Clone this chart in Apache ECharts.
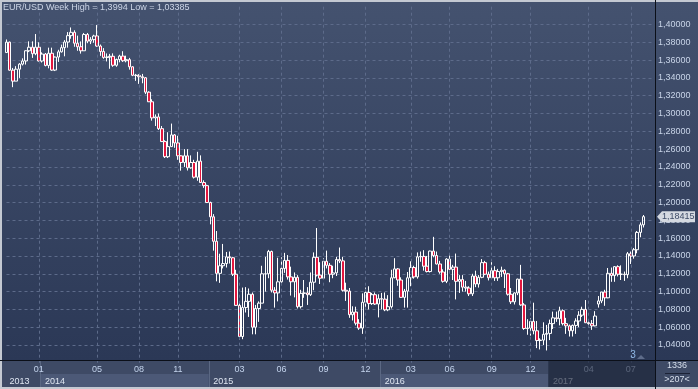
<!DOCTYPE html>
<html>
<head>
<meta charset="utf-8">
<title>EUR/USD Week</title>
<script src="https://cdn.jsdelivr.net/npm/echarts@6/dist/echarts.min.js"></script>
<style>
  html, body { margin: 0; padding: 0; background: #c4c9d2; }
  #chart { width: 698px; height: 389px; }
</style>
</head>
<body>
<div id="chart"></div>
<script>
// week start (Monday) of every candle
const weeks = [
  '2013-10-21', '2013-10-28', '2013-11-04', '2013-11-11', '2013-11-18', '2013-11-25', '2013-12-02', '2013-12-09', '2013-12-16', '2013-12-23', '2013-12-30',
  '2014-01-06', '2014-01-13', '2014-01-20', '2014-01-27', '2014-02-03', '2014-02-10', '2014-02-17', '2014-02-24', '2014-03-03', '2014-03-10', '2014-03-17', '2014-03-24', '2014-03-31',
  '2014-04-07', '2014-04-14', '2014-04-21', '2014-04-28', '2014-05-05', '2014-05-12', '2014-05-19', '2014-05-26', '2014-06-02', '2014-06-09', '2014-06-16', '2014-06-23', '2014-06-30',
  '2014-07-07', '2014-07-14', '2014-07-21', '2014-07-28', '2014-08-04', '2014-08-11', '2014-08-18', '2014-08-25', '2014-09-01', '2014-09-08', '2014-09-15', '2014-09-22', '2014-09-29',
  '2014-10-06', '2014-10-13', '2014-10-20', '2014-10-27', '2014-11-03', '2014-11-10', '2014-11-17', '2014-11-24', '2014-12-01', '2014-12-08', '2014-12-15', '2014-12-22', '2014-12-29',
  '2015-01-05', '2015-01-12', '2015-01-19', '2015-01-26', '2015-02-02', '2015-02-09', '2015-02-16', '2015-02-23', '2015-03-02', '2015-03-09', '2015-03-16', '2015-03-23', '2015-03-30',
  '2015-04-06', '2015-04-13', '2015-04-20', '2015-04-27', '2015-05-04', '2015-05-11', '2015-05-18', '2015-05-25', '2015-06-01', '2015-06-08', '2015-06-15', '2015-06-22', '2015-06-29',
  '2015-07-06', '2015-07-13', '2015-07-20', '2015-07-27', '2015-08-03', '2015-08-10', '2015-08-17', '2015-08-24', '2015-08-31', '2015-09-07', '2015-09-14', '2015-09-21', '2015-09-28',
  '2015-10-05', '2015-10-12', '2015-10-19', '2015-10-26', '2015-11-02', '2015-11-09', '2015-11-16', '2015-11-23', '2015-11-30', '2015-12-07', '2015-12-14', '2015-12-21', '2015-12-28',
  '2016-01-04', '2016-01-11', '2016-01-18', '2016-01-25', '2016-02-01', '2016-02-08', '2016-02-15', '2016-02-22', '2016-02-29', '2016-03-07', '2016-03-14', '2016-03-21', '2016-03-28',
  '2016-04-04', '2016-04-11', '2016-04-18', '2016-04-25', '2016-05-02', '2016-05-09', '2016-05-16', '2016-05-23', '2016-05-30', '2016-06-06', '2016-06-13', '2016-06-20', '2016-06-27',
  '2016-07-04', '2016-07-11', '2016-07-18', '2016-07-25', '2016-08-01', '2016-08-08', '2016-08-15', '2016-08-22', '2016-08-29', '2016-09-05', '2016-09-12', '2016-09-19', '2016-09-26',
  '2016-10-03', '2016-10-10', '2016-10-17', '2016-10-24', '2016-10-31', '2016-11-07', '2016-11-14', '2016-11-21', '2016-11-28', '2016-12-05', '2016-12-12', '2016-12-19', '2016-12-26',
  '2017-01-02', '2017-01-09', '2017-01-16', '2017-01-23', '2017-01-30', '2017-02-06', '2017-02-13', '2017-02-20', '2017-02-27', '2017-03-06', '2017-03-13', '2017-03-20', '2017-03-27',
  '2017-04-03', '2017-04-10', '2017-04-17', '2017-04-24', '2017-05-01', '2017-05-08', '2017-05-15', '2017-05-22', '2017-05-29', '2017-06-05', '2017-06-12', '2017-06-19', '2017-06-26',
  '2017-07-03', '2017-07-10', '2017-07-17', '2017-07-24', '2017-07-31',
  // empty slots on the right edge
  '2017-08-07', '2017-08-14', '2017-08-21'
]

const opens = [
  1.3685, 1.3802, 1.3487, 1.3364, 1.3498, 1.3555, 1.3590, 1.3705, 1.3745, 1.3672, 1.3745,
  1.3590, 1.3668, 1.3540, 1.3677, 1.3488, 1.3634, 1.3693, 1.3740, 1.3803, 1.3875, 1.3912, 1.3790, 1.3750,
  1.3705, 1.3888, 1.3813, 1.3830, 1.3871, 1.3758, 1.3697, 1.3630, 1.3635, 1.3643, 1.3542, 1.3607, 1.3645,
  1.3593, 1.3605, 1.3525, 1.3430, 1.3428, 1.3413, 1.3402, 1.3240, 1.3132, 1.2951, 1.2962, 1.2830, 1.2685,
  1.2515, 1.2628, 1.2760, 1.2670, 1.2525, 1.2450, 1.2525, 1.2390, 1.2450, 1.2285, 1.2465, 1.2225, 1.2190,
  1.2000, 1.1840, 1.1565, 1.1205, 1.1290, 1.1315, 1.1390, 1.1380, 1.1195, 1.0845, 1.0495, 1.0820, 1.0890,
  1.0970, 1.0600, 1.0810, 1.0870, 1.1200, 1.1200, 1.1450, 1.1015, 1.0985, 1.1110, 1.1260, 1.1350, 1.1165,
  1.1110, 1.1160, 1.0830, 1.0980, 1.0985, 1.0965, 1.1105, 1.1385, 1.1185, 1.1150, 1.1340, 1.1295, 1.1195,
  1.1210, 1.1360, 1.1345, 1.1015, 1.1005, 1.0740, 1.0770, 1.0645, 1.0590, 1.0880, 1.0990, 1.0865, 1.0965,
  1.0860, 1.0920, 1.0915, 1.0795, 1.0830, 1.1155, 1.1255, 1.1130, 1.0935, 1.1005, 1.1155, 1.1270, 1.1165,
  1.1390, 1.1395, 1.1285, 1.1225, 1.1455, 1.1405, 1.1310, 1.1220, 1.1115, 1.1365, 1.1250, 1.1275, 1.1115,
  1.1135, 1.1050, 1.1040, 1.0975, 1.1175, 1.1085, 1.1160, 1.1325, 1.1195, 1.1155, 1.1235, 1.1155, 1.1225,
  1.1240, 1.1200, 1.0970, 1.0885, 1.0985, 1.1140, 1.0850, 1.0585, 1.0590, 1.0665, 1.0560, 1.0450, 1.0455,
  1.0520, 1.0530, 1.0640, 1.0705, 1.0695, 1.0785, 1.0640, 1.0615, 1.0560, 1.0620, 1.0670, 1.0735, 1.0800,
  1.0650, 1.0640, 1.0615, 1.0860, 1.0895, 1.0995, 1.0930, 1.1205, 1.1180, 1.1280, 1.1195, 1.1195, 1.1190,
  1.1425, 1.1400, 1.1470, 1.1665, 1.1750
]

const highs = [
  1.3832, 1.3808, 1.3512, 1.3532, 1.3566, 1.3620, 1.3710, 1.3811, 1.3811, 1.3893, 1.3800,
  1.3687, 1.3680, 1.3740, 1.3740, 1.3640, 1.3716, 1.3774, 1.3825, 1.3915, 1.3967, 1.3935, 1.3875, 1.3810,
  1.3905, 1.3905, 1.3858, 1.3885, 1.3994, 1.3775, 1.3735, 1.3675, 1.3670, 1.3676, 1.3617, 1.3660, 1.3700,
  1.3650, 1.3625, 1.3530, 1.3445, 1.3443, 1.3445, 1.3410, 1.3250, 1.3160, 1.2990, 1.3000, 1.2860, 1.2700,
  1.2790, 1.2887, 1.2770, 1.2750, 1.2530, 1.2600, 1.2600, 1.2530, 1.2480, 1.2570, 1.2530, 1.2250, 1.2200,
  1.2010, 1.1870, 1.1680, 1.1425, 1.1535, 1.1445, 1.1450, 1.1390, 1.1245, 1.0880, 1.1045, 1.1050, 1.1035,
  1.0990, 1.0850, 1.0890, 1.1290, 1.1390, 1.1468, 1.1460, 1.1050, 1.1380, 1.1385, 1.1435, 1.1410, 1.1280,
  1.1215, 1.1185, 1.1020, 1.1130, 1.1050, 1.1215, 1.1440, 1.1714, 1.1330, 1.1375, 1.1460, 1.1320, 1.1290,
  1.1390, 1.1495, 1.1390, 1.1100, 1.1040, 1.0835, 1.0830, 1.0690, 1.0980, 1.1045, 1.1060, 1.0985, 1.0990,
  1.0970, 1.0985, 1.0990, 1.0960, 1.1245, 1.1375, 1.1265, 1.1160, 1.1030, 1.1220, 1.1340, 1.1290, 1.1440,
  1.1450, 1.1465, 1.1400, 1.1460, 1.1615, 1.1450, 1.1345, 1.1250, 1.1375, 1.1415, 1.1300, 1.1427, 1.1185,
  1.1185, 1.1120, 1.1060, 1.1200, 1.1235, 1.1185, 1.1365, 1.1345, 1.1225, 1.1330, 1.1285, 1.1255, 1.1280,
  1.1250, 1.1210, 1.1040, 1.0990, 1.1145, 1.1300, 1.0870, 1.0690, 1.0700, 1.0875, 1.0670, 1.0475, 1.0655,
  1.0625, 1.0685, 1.0775, 1.0775, 1.0830, 1.0800, 1.0705, 1.0630, 1.0630, 1.0700, 1.0780, 1.0830, 1.0905,
  1.0690, 1.0680, 1.0780, 1.0950, 1.0995, 1.1020, 1.1265, 1.1270, 1.1285, 1.1295, 1.1295, 1.1225, 1.1445,
  1.1450, 1.1490, 1.1680, 1.1777, 1.1860
]

const lows = [
  1.3680, 1.3480, 1.3296, 1.3364, 1.3400, 1.3540, 1.3550, 1.3690, 1.3625, 1.3655, 1.3585,
  1.3573, 1.3530, 1.3508, 1.3480, 1.3477, 1.3580, 1.3685, 1.3643, 1.3740, 1.3840, 1.3750, 1.3705, 1.3673,
  1.3705, 1.3790, 1.3780, 1.3795, 1.3750, 1.3648, 1.3615, 1.3585, 1.3503, 1.3525, 1.3525, 1.3575, 1.3580,
  1.3575, 1.3493, 1.3420, 1.3367, 1.3333, 1.3340, 1.3218, 1.3130, 1.2920, 1.2860, 1.2815, 1.2680, 1.2500,
  1.2500, 1.2625, 1.2615, 1.2480, 1.2358, 1.2400, 1.2360, 1.2380, 1.2270, 1.2245, 1.2220, 1.2165, 1.1995,
  1.1755, 1.1460, 1.1115, 1.1098, 1.1260, 1.1270, 1.1315, 1.1175, 1.0840, 1.0462, 1.0465, 1.0765, 1.0715,
  1.0520, 1.0520, 1.0660, 1.0870, 1.1000, 1.1150, 1.0990, 1.0820, 1.0890, 1.1080, 1.1210, 1.1135, 1.0955,
  1.0935, 1.0810, 1.0810, 1.0930, 1.0850, 1.0950, 1.1015, 1.1170, 1.1085, 1.1150, 1.1260, 1.1105, 1.1150,
  1.1175, 1.1320, 1.1000, 1.0895, 1.0705, 1.0675, 1.0620, 1.0570, 1.0525, 1.0800, 1.0800, 1.0850, 1.0850,
  1.0710, 1.0800, 1.0780, 1.0780, 1.0810, 1.1150, 1.1065, 1.0930, 1.0820, 1.0820, 1.1060, 1.1145, 1.1145,
  1.1335, 1.1235, 1.1215, 1.1215, 1.1385, 1.1305, 1.1200, 1.1100, 1.1095, 1.1240, 1.1130, 1.0912, 1.0985,
  1.1000, 1.1000, 1.0950, 1.0950, 1.1050, 1.1045, 1.1150, 1.1185, 1.1125, 1.1150, 1.1120, 1.1120, 1.1165,
  1.1040, 1.0955, 1.0860, 1.0855, 1.0960, 1.0840, 1.0570, 1.0515, 1.0505, 1.0520, 1.0365, 1.0350, 1.0400,
  1.03385, 1.0455, 1.0580, 1.0660, 1.0620, 1.0620, 1.0525, 1.0495, 1.0495, 1.0525, 1.0600, 1.0715, 1.0650,
  1.0600, 1.0570, 1.0610, 1.0820, 1.0870, 1.0840, 1.0925, 1.1110, 1.1110, 1.1170, 1.1130, 1.1120, 1.1150,
  1.1310, 1.1370, 1.1430, 1.1610, 1.1720
]

const closes = [
  1.3802, 1.3487, 1.3364, 1.3498, 1.3555, 1.3590, 1.3705, 1.3745, 1.3672, 1.3745, 1.3590,
  1.3668, 1.3540, 1.3677, 1.3488, 1.3634, 1.3693, 1.3740, 1.3803, 1.3875, 1.3912, 1.3790, 1.3750, 1.3705,
  1.3888, 1.3813, 1.3830, 1.3871, 1.3758, 1.3697, 1.3630, 1.3635, 1.3643, 1.3542, 1.3607, 1.3645, 1.3593,
  1.3605, 1.3525, 1.3430, 1.3428, 1.3413, 1.3402, 1.3240, 1.3132, 1.2951, 1.2962, 1.2830, 1.2685, 1.2515,
  1.2628, 1.2760, 1.2670, 1.2525, 1.2450, 1.2525, 1.2390, 1.2450, 1.2285, 1.2465, 1.2225, 1.2190, 1.2000,
  1.1840, 1.1565, 1.1205, 1.1290, 1.1315, 1.1390, 1.1380, 1.1195, 1.0845, 1.0495, 1.0820, 1.0890, 1.0970,
  1.0600, 1.0810, 1.0870, 1.1200, 1.1200, 1.1450, 1.1015, 1.0985, 1.1110, 1.1260, 1.1350, 1.1165, 1.1110,
  1.1160, 1.0830, 1.0980, 1.0985, 1.0965, 1.1105, 1.1385, 1.1185, 1.1150, 1.1340, 1.1295, 1.1195, 1.1210,
  1.1360, 1.1345, 1.1015, 1.1005, 1.0740, 1.0770, 1.0645, 1.0590, 1.0880, 1.0990, 1.0865, 1.0965, 1.0860,
  1.0920, 1.0915, 1.0795, 1.0830, 1.1155, 1.1255, 1.1130, 1.0935, 1.1005, 1.1155, 1.1270, 1.1165, 1.1390,
  1.1395, 1.1285, 1.1225, 1.1455, 1.1405, 1.1310, 1.1220, 1.1115, 1.1365, 1.1250, 1.1275, 1.1115, 1.1135,
  1.1050, 1.1040, 1.0975, 1.1175, 1.1085, 1.1160, 1.1325, 1.1195, 1.1155, 1.1235, 1.1155, 1.1225, 1.1240,
  1.1200, 1.0970, 1.0885, 1.0985, 1.1140, 1.0850, 1.0585, 1.0590, 1.0665, 1.0560, 1.0450, 1.0455, 1.0520,
  1.0530, 1.0640, 1.0705, 1.0695, 1.0785, 1.0640, 1.0615, 1.0560, 1.0620, 1.0670, 1.0735, 1.0800, 1.0650,
  1.0640, 1.0615, 1.0725, 1.0895, 1.0995, 1.0930, 1.1205, 1.1180, 1.1280, 1.1195, 1.1195, 1.1190, 1.1425,
  1.1400, 1.1470, 1.1665, 1.1750, 1.18415
]

const lastPrice = 1.18415

// x axis texts: month labels and year labels, tied to week indexes
const monthTickIdx = [10, 28, 41, 53, 72, 85, 98, 111, 125, 137, 150, 162, 180, 193]
const monthTickText = ['01', '05', '08', '11', '03', '06', '09', '12', '03', '06', '09', '12', '04', '07']
const yearTickIdx = [0, 11, 63, 116, 168]
const yearTickText = ['2013', '2014', '2015', '2016', '2017']

// echarts wants [open, close, low, high]
const candleData = opens.map((o, i) => [o, closes[i], lows[i], highs[i]])

const FONT = 'Liberation Sans'
const chart = echarts.init(document.getElementById('chart'), null, { renderer: 'canvas' })

// split line colours: first (1,02000) and last (1,42000) are outside the visible plot
const gridColors = []
for (let i = 0; i < 20; i++) gridColors.push(i === 0 ? 'rgba(0,0,0,0)' : '#5d6b8a')

const option = {
  animation: false,
  backgroundColor: '#c4c9d2',
  title: {
    text: 'EUR/USD Week High = 1,3994 Low = 1,03385',
    left: 3,
    top: 3,
    padding: 0,
    textStyle: { color: '#ccd5e6', fontSize: 9, fontWeight: 'normal', fontFamily: FONT }
  },
  grid: { left: 6.5, right: 44.6, top: 6.7, bottom: 26.2 },
  xAxis: [
    {
      type: 'category',
      data: weeks,
      boundaryGap: false,
      z: 3,
      axisLine: { show: false },
      axisTick: { show: false },
      axisLabel: {
        interval: (idx) => monthTickIdx.includes(idx),
        formatter: (val, idx) => monthTickText[monthTickIdx.indexOf(idx)] || '',
        color: '#c3d3ec',
        fontSize: 9,
        fontFamily: FONT,
        margin: 2
      },
      splitLine: {
        show: true,
        interval: (idx) => monthTickIdx.includes(idx),
        lineStyle: { color: '#5d6b8a', type: [3, 3], width: 1 }
      }
    },
    {
      type: 'category',
      data: weeks,
      boundaryGap: false,
      position: 'bottom',
      offset: 12,
      z: 3,
      axisLine: { show: false },
      axisTick: { show: false },
      axisLabel: {
        interval: (idx) => yearTickIdx.includes(idx),
        formatter: (val, idx) => yearTickText[yearTickIdx.indexOf(idx)] || '',
        color: '#dfe6f2',
        fontSize: 9,
        fontFamily: FONT,
        align: 'left',
        padding: [0, 0, 0, 3],
        margin: 2
      },
      splitLine: { show: false }
    }
  ],
  yAxis: {
    type: 'value',
    position: 'right',
    min: 1.02,
    max: 1.42,
    interval: 0.02,
    z: 1,
    axisLine: { show: false },
    axisTick: { show: false },
    axisLabel: {
      showMinLabel: false,
      showMaxLabel: false,
      margin: 4.6,
      color: '#c8d4e8',
      fontSize: 9,
      fontFamily: FONT,
      formatter: (v) => v.toFixed(5).replace('.', ',')
    },
    splitLine: { show: true, lineStyle: { color: gridColors, type: [3, 3], width: 1 } }
  },
  series: [
    {
      type: 'candlestick',
      name: 'EUR/USD',
      data: candleData,
      barWidth: 3,
      z: 2,
      itemStyle: {
        color: 'rgba(0,0,0,0)',
        color0: '#e3173e',
        borderColor: '#ffffff',
        borderColor0: '#ffffff',
        borderWidth: 1
      }
    }
  ]
}

chart.setOption(option)

// panels, year bands, price tag: placed from the axes
const xAt = (i) => chart.convertToPixel({ xAxisIndex: 0 }, i)
const yAt = (v) => chart.convertToPixel({ yAxisIndex: 0 }, v)
const half = (xAt(1) - xAt(0)) / 2
const yearEdges = yearTickIdx.map((i, k) => (k === 0 ? 2 : xAt(i) - half))
yearEdges.push(655)

const bgGradient = new echarts.graphic.LinearGradient(0, 0, 0, 1, [
  { offset: 0, color: '#44526f' },
  { offset: 1, color: '#2b3856' }
])

const graphics = [
  { type: 'rect', z: 0, silent: true, shape: { x: 2, y: 2, width: 653, height: 358 }, style: { fill: bgGradient } },
  { type: 'rect', z: 0, silent: true, shape: { x: 656, y: 2, width: 42, height: 358 }, style: { fill: bgGradient } },
  // x axis band
  { type: 'rect', z: 2, silent: true, shape: { x: 2, y: 361, width: 653, height: 26 }, style: { fill: '#3e4a65' } },
  { type: 'rect', z: 2, silent: true, shape: { x: 656, y: 361, width: 42, height: 26 }, style: { fill: '#3e4a65' } }
]
// lighter year cells for 2014 and 2016
;[1, 3].forEach((k) => {
  graphics.push({
    type: 'rect', z: 2, silent: true,
    shape: { x: yearEdges[k], y: 374, width: yearEdges[k + 1] - yearEdges[k], height: 13 },
    style: { fill: '#4c5977' }
  })
})
yearEdges.slice(1, 4).forEach((x) => {
  graphics.push({
    type: 'rect', z: 2, silent: true,
    shape: { x: Math.round(x), y: 361, width: 1, height: 26 },
    style: { fill: '#5b6883' }
  })
})
// dark cover over the running year
graphics.push({
  type: 'rect', z: 5, silent: true,
  shape: { x: yearEdges[4], y: 361, width: 655 - yearEdges[4], height: 26 },
  style: { fill: 'rgba(24,32,52,0.62)' }
})
// black frame lines
graphics.push({ type: 'rect', z: 6, silent: true, shape: { x: 0, y: 360, width: 698, height: 1 }, style: { fill: '#0b0f18' } })
graphics.push({ type: 'rect', z: 6, silent: true, shape: { x: 655, y: 0, width: 1, height: 389 }, style: { fill: '#0b0f18' } })

// bar counter box
graphics.push({
  type: 'text', z: 6, silent: true,
  style: { x: 677, y: 366, text: '1336', fill: '#d7dfec', fontSize: 9, fontFamily: FONT, align: 'center', verticalAlign: 'middle' }
})
graphics.push({ type: 'rect', z: 6, silent: true, shape: { x: 665, y: 373, width: 25, height: 1 }, style: { fill: '#1b2236' } })
graphics.push({
  type: 'text', z: 6, silent: true,
  style: { x: 677, y: 380, text: '>207<', fill: '#d7dfec', fontSize: 9, fontFamily: FONT, align: 'center', verticalAlign: 'middle' }
})

// "3" marker at the plot's lower right
graphics.push({
  type: 'text', z: 6, silent: true,
  style: { x: 633, y: 355.5, text: '3', fill: '#8fb8e6', fontSize: 10, fontFamily: FONT, align: 'center', verticalAlign: 'middle' }
})
graphics.push({ type: 'polygon', z: 6, silent: true, shape: { points: [[637, 359], [641, 355], [645, 359]] }, style: { fill: '#5e6c8a' } })

// last price tag
const tagY = yAt(lastPrice)
graphics.push({
  type: 'polygon', z: 6, silent: true,
  shape: { points: [[657, tagY], [662, tagY - 5.5], [695, tagY - 5.5], [695, tagY + 5.5], [662, tagY + 5.5]] },
  style: { fill: '#d5d9e1' }
})
graphics.push({
  type: 'text', z: 7, silent: true,
  style: { x: 662, y: tagY, text: lastPrice.toFixed(5).replace('.', ','), fill: '#3c4a66', fontSize: 9, fontFamily: FONT, verticalAlign: 'middle' }
})

chart.setOption({ graphic: { elements: graphics } })
</script>
</body>
</html>
